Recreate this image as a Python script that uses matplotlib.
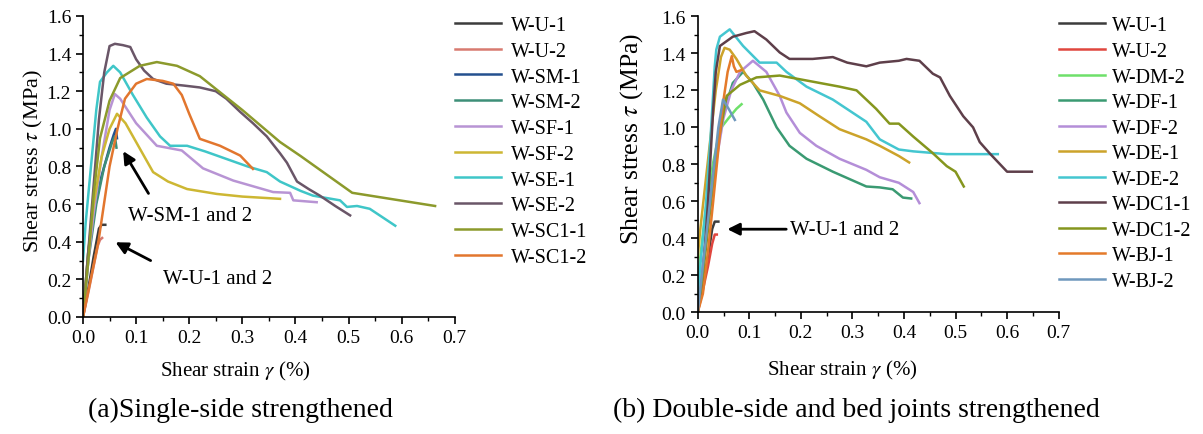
import matplotlib.pyplot as plt
from matplotlib.ticker import MultipleLocator

plt.rcParams['font.family'] = ['Liberation Serif', 'DejaVu Serif']
plt.rcParams['mathtext.fontset'] = 'stix'

# (a) single-side strengthened: (strain %, stress MPa)
a_labels = ['W-U-1', 'W-U-2', 'W-SM-1', 'W-SM-2', 'W-SF-1', 'W-SF-2',
            'W-SE-1', 'W-SE-2', 'W-SC1-1', 'W-SC1-2']
a_colors = ['#3c3c3c', '#d87a70', '#24508f', '#3d8f78', '#b894d4', '#cdb733',
            '#3fc6c8', '#6a5668', '#8c9a2c', '#e2762e']
a_x = [
    [0, 0.01, 0.02, 0.03, 0.035, 0.042],
    [0, 0.01, 0.02, 0.028, 0.032, 0.036],
    [0, 0.01, 0.02, 0.035, 0.05, 0.058, 0.062, 0.064],
    [0, 0.01, 0.025, 0.04, 0.055, 0.06, 0.063],
    [0, 0.01, 0.02, 0.035, 0.05, 0.06, 0.07, 0.1, 0.139, 0.186, 0.226, 0.283,
     0.358, 0.39, 0.396, 0.44],
    [0, 0.01, 0.02, 0.035, 0.05, 0.064, 0.08, 0.1, 0.132, 0.16, 0.196, 0.252,
     0.3, 0.371],
    [0, 0.005, 0.015, 0.025, 0.032, 0.045, 0.057, 0.07, 0.094, 0.12, 0.145,
     0.164, 0.196, 0.23, 0.27, 0.31, 0.346, 0.371, 0.41, 0.433, 0.484, 0.497,
     0.516, 0.54, 0.588],
    [0, 0.01, 0.02, 0.03, 0.04, 0.05, 0.06, 0.075, 0.089, 0.1, 0.115, 0.132,
     0.157, 0.19, 0.22, 0.25, 0.27, 0.296, 0.32, 0.346, 0.371, 0.384, 0.403,
     0.425, 0.446, 0.475, 0.503],
    [0, 0.01, 0.02, 0.032, 0.05, 0.07, 0.107, 0.139, 0.177, 0.22, 0.3, 0.371,
     0.41, 0.507, 0.663],
    [0, 0.029, 0.05, 0.065, 0.079, 0.1, 0.12, 0.15, 0.17, 0.186, 0.2, 0.22,
     0.258, 0.296, 0.32],
]
a_y = [
    [0, 0.15, 0.32, 0.47, 0.49, 0.49],
    [0, 0.13, 0.27, 0.38, 0.41, 0.42],
    [0, 0.35, 0.55, 0.75, 0.9, 0.97, 1.0, 0.95],
    [0, 0.3, 0.6, 0.8, 0.93, 0.96, 0.9],
    [0, 0.3, 0.55, 0.85, 1.1, 1.185, 1.16, 1.03, 0.91, 0.885, 0.79, 0.725,
     0.664, 0.66, 0.62, 0.61],
    [0, 0.35, 0.6, 0.85, 1.0, 1.08, 1.03, 0.93, 0.77, 0.72, 0.68, 0.654,
     0.64, 0.628],
    [0.3, 0.5, 0.8, 1.1, 1.25, 1.3, 1.335, 1.3, 1.18, 1.06, 0.96, 0.91, 0.91,
     0.88, 0.84, 0.8, 0.77, 0.72, 0.67, 0.645, 0.62, 0.585, 0.59, 0.575, 0.485],
    [0, 0.35, 0.7, 1.05, 1.3, 1.44, 1.452, 1.445, 1.435, 1.37, 1.31, 1.265,
     1.24, 1.23, 1.22, 1.2, 1.16, 1.09, 1.03, 0.96, 0.87, 0.82, 0.72, 0.68,
     0.645, 0.59, 0.54],
    [0, 0.3, 0.65, 0.95, 1.15, 1.27, 1.335, 1.355, 1.335, 1.28, 1.1, 0.93,
     0.855, 0.66, 0.59],
    [0, 0.4, 0.8, 1.0, 1.16, 1.24, 1.265, 1.255, 1.24, 1.18, 1.08, 0.947,
     0.91, 0.858, 0.787],
]

# (b) double-side and bed joints strengthened
b_labels = ['W-U-1', 'W-U-2', 'W-DM-2', 'W-DF-1', 'W-DF-2', 'W-DE-1',
            'W-DE-2', 'W-DC1-1', 'W-DC1-2', 'W-BJ-1', 'W-BJ-2']
b_colors = ['#3c3c3c', '#e0463e', '#6ee06a', '#3a9a72', '#b48ed8', '#cca32a',
            '#44c6d0', '#5e3f4a', '#85961e', '#e47a2a', '#6f98bd']
b_x = [
    [0, 0.01, 0.02, 0.028, 0.033, 0.04],
    [0, 0.01, 0.02, 0.028, 0.033, 0.037],
    [0, 0.005, 0.015, 0.03, 0.043, 0.06, 0.075, 0.085],
    [0, 0.01, 0.02, 0.03, 0.04, 0.05, 0.068, 0.088, 0.107, 0.127, 0.153, 0.178,
     0.211, 0.262, 0.327, 0.353, 0.378, 0.398, 0.414],
    [0, 0.01, 0.02, 0.035, 0.05, 0.065, 0.082, 0.107, 0.133, 0.159, 0.172,
     0.198, 0.23, 0.275, 0.327, 0.353, 0.39, 0.418, 0.43],
    [0, 0.005, 0.015, 0.025, 0.035, 0.045, 0.052, 0.062, 0.075, 0.094, 0.12,
     0.159, 0.198, 0.236, 0.275, 0.327, 0.353, 0.39, 0.41],
    [0, 0.005, 0.015, 0.025, 0.033, 0.036, 0.043, 0.062, 0.088, 0.12, 0.153,
     0.172, 0.211, 0.262, 0.327, 0.353, 0.39, 0.418, 0.483, 0.582],
    [0, 0.01, 0.02, 0.03, 0.035, 0.043, 0.068, 0.094, 0.11, 0.133, 0.159,
     0.178, 0.223, 0.262, 0.29, 0.327, 0.353, 0.39, 0.405, 0.43, 0.456, 0.47,
     0.489, 0.515, 0.534, 0.547, 0.566, 0.6, 0.648],
    [0, 0.01, 0.02, 0.03, 0.04, 0.056, 0.082, 0.114, 0.159, 0.198, 0.275,
     0.308, 0.346, 0.372, 0.39, 0.418, 0.456, 0.483, 0.5, 0.516],
    [0, 0.01, 0.02, 0.03, 0.04, 0.049, 0.058, 0.066, 0.07, 0.075, 0.085],
    [0, 0.01, 0.02, 0.03, 0.04, 0.049, 0.06, 0.072],
]
b_y = [
    [0, 0.15, 0.3, 0.45, 0.49, 0.49],
    [0, 0.12, 0.25, 0.37, 0.42, 0.42],
    [0.15, 0.3, 0.55, 0.81, 0.99, 1.05, 1.1, 1.125],
    [0, 0.25, 0.5, 0.75, 0.95, 1.08, 1.24, 1.3, 1.24, 1.15, 1.0, 0.9, 0.83,
     0.76, 0.68, 0.675, 0.665, 0.62, 0.615],
    [0, 0.25, 0.5, 0.8, 1.05, 1.2, 1.3, 1.36, 1.3, 1.17, 1.08, 0.97, 0.9,
     0.83, 0.77, 0.73, 0.7, 0.65, 0.59],
    [0.3, 0.45, 0.7, 0.95, 1.2, 1.38, 1.43, 1.42, 1.37, 1.28, 1.2, 1.17,
     1.13, 1.06, 0.99, 0.935, 0.9, 0.845, 0.81],
    [0.1, 0.25, 0.55, 0.95, 1.33, 1.42, 1.49, 1.53, 1.44, 1.35, 1.35, 1.3,
     1.22, 1.15, 1.03, 0.935, 0.88, 0.87, 0.855, 0.855],
    [0, 0.2, 0.6, 1.1, 1.3, 1.44, 1.49, 1.51, 1.52, 1.475, 1.405, 1.37, 1.37,
     1.38, 1.35, 1.33, 1.35, 1.36, 1.37, 1.36, 1.29, 1.27, 1.17, 1.06, 1.0,
     0.92, 0.86, 0.76, 0.76],
    [0, 0.2, 0.45, 0.7, 0.92, 1.17, 1.23, 1.27, 1.28, 1.26, 1.22, 1.2, 1.1,
     1.02, 1.02, 0.95, 0.86, 0.79, 0.76, 0.68],
    [0, 0.1, 0.33, 0.6, 0.88, 1.13, 1.3, 1.385, 1.33, 1.3, 1.31],
    [0, 0.25, 0.5, 0.75, 1.0, 1.15, 1.1, 1.04],
]

fig = plt.figure(figsize=(12.03, 4.35), dpi=100)
ax1 = fig.add_axes([0.069, 0.269, 0.309, 0.692])
ax2 = fig.add_axes([0.580, 0.280, 0.300, 0.680])


def style(ax, ylabel_size):
    ax.set_xlim(0, 0.7)
    ax.set_ylim(0, 1.6)
    ax.spines['top'].set_visible(False)
    ax.spines['right'].set_visible(False)
    ax.spines['left'].set_linewidth(1.2)
    ax.spines['bottom'].set_linewidth(1.2)
    ax.xaxis.set_major_locator(MultipleLocator(0.1))
    ax.xaxis.set_minor_locator(MultipleLocator(0.05))
    ax.yaxis.set_major_locator(MultipleLocator(0.2))
    ax.yaxis.set_minor_locator(MultipleLocator(0.1))
    ax.tick_params(which='major', direction='out', length=5, width=1.2,
                   labelsize=14)
    ax.tick_params(which='minor', direction='out', length=3, width=1.0)
    ax.xaxis.set_major_formatter(plt.FuncFormatter(lambda v, p: f'{v:.1f}'))
    ax.yaxis.set_major_formatter(plt.FuncFormatter(lambda v, p: f'{v:.1f}'))
    ax.set_xlabel('Shear strain $\\gamma$ (%)', fontsize=15)
    ax.set_ylabel('Shear stress $\\tau$ (MPa)', fontsize=ylabel_size)


for xs, ys, lab, c in zip(a_x, a_y, a_labels, a_colors):
    ax1.plot(xs, ys, color=c, lw=1.8, label=lab)
for xs, ys, lab, c in zip(b_x, b_y, b_labels, b_colors):
    ax2.plot(xs, ys, color=c, lw=1.8, label=lab)

style(ax1, 16)
style(ax2, 18.5)
ax1.xaxis.set_label_coords(0.41, -0.14)
ax1.yaxis.set_label_coords(-0.102, 0.52)
ax2.xaxis.set_label_coords(0.40, -0.155)
ax2.yaxis.set_label_coords(-0.147, 0.588)

arrow = dict(arrowstyle='-|>', color='black', lw=2, mutation_scale=18)
ax1.annotate('', xy=(0.073, 0.894), xytext=(0.126, 0.644), arrowprops=arrow)
ax1.text(0.085, 0.537, 'W-SM-1 and 2', fontsize=15, va='center')
ax1.annotate('', xy=(0.0565, 0.404), xytext=(0.132, 0.293), arrowprops=arrow)
ax1.text(0.15, 0.207, 'W-U-1 and 2', fontsize=15, va='center')
ax2.annotate('', xy=(0.052, 0.449), xytext=(0.177, 0.449), arrowprops=arrow)
ax2.text(0.178, 0.449, 'W-U-1 and 2', fontsize=15, va='center')

ax1.legend(loc='upper left', bbox_to_anchor=(1.0, 1.0), frameon=False,
           fontsize=14.5, handlelength=2.3, handletextpad=0.5,
           labelspacing=0.33, borderpad=0, borderaxespad=0)
ax2.legend(loc='upper left', bbox_to_anchor=(1.0, 1.0), frameon=False,
           fontsize=14.5, handlelength=2.3, handletextpad=0.35,
           labelspacing=0.32, borderpad=0, borderaxespad=0)

fig.text(240 / 1203, 1 - 410 / 435, '(a)Single-side strengthened',
         fontsize=20, ha='center', va='center')
fig.text(856 / 1203, 1 - 410 / 435, '(b) Double-side and bed joints strengthened',
         fontsize=20, ha='center', va='center')

fig.savefig('out.png', dpi=100)
